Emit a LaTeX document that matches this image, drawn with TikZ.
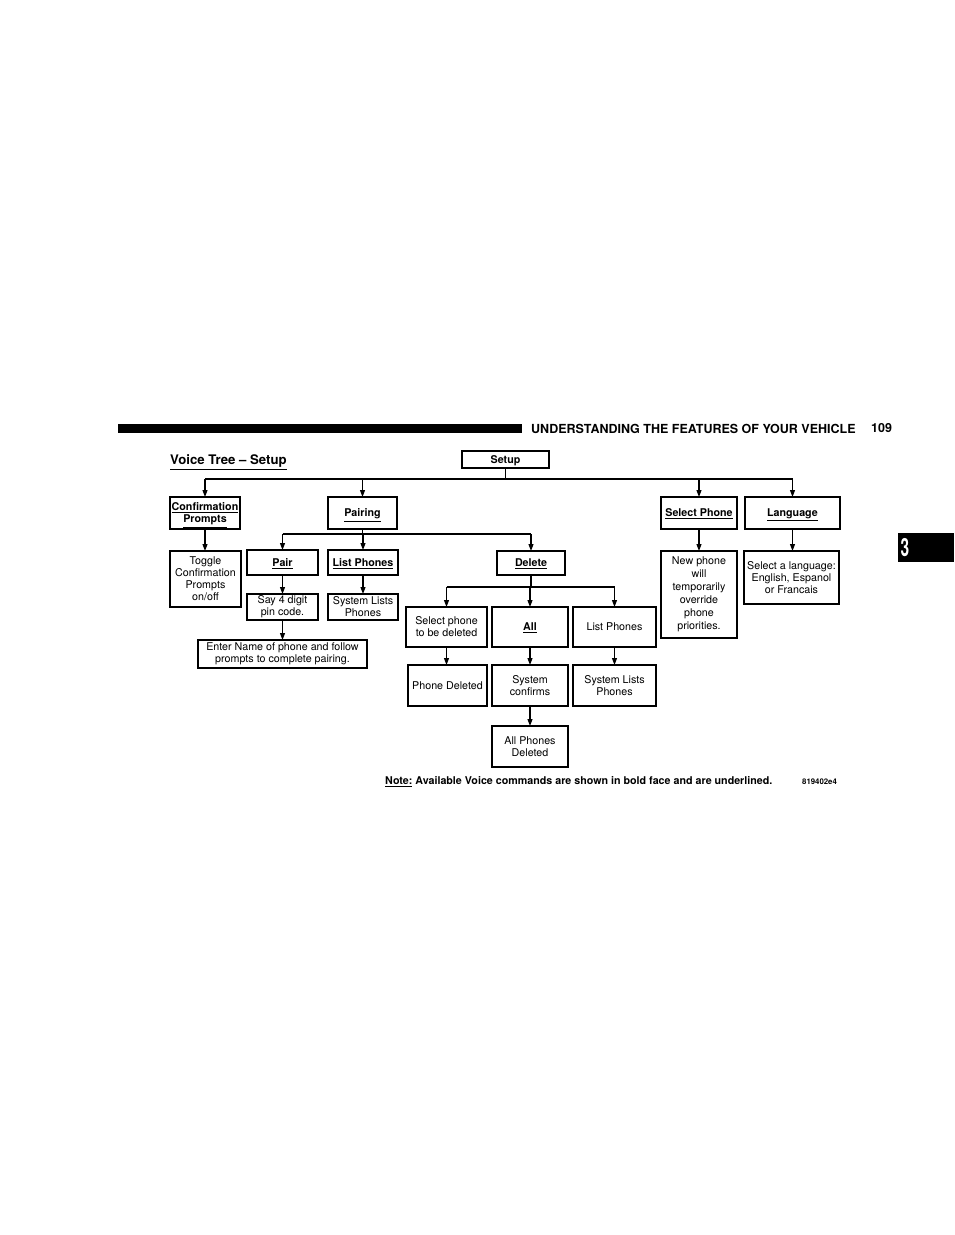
\documentclass[tikz,border=0pt]{standalone}
\usepackage{fontspec}
\setmainfont{TeX Gyre Heros}
\usetikzlibrary{arrows.meta}
\newcommand\ulz[1]{\raisebox{0pt}[\height][0pt]{\underline{#1}}}
\begin{document}
\begin{tikzpicture}[x=1pt,y=-1pt,
  box/.style={draw, line width=1.1pt, inner sep=0pt, outer sep=0pt, align=center,
    font=\fontsize{10.7}{12}\selectfont},
  cmd/.style={box, font=\fontsize{10.7}{12}\selectfont\bfseries},
  wire/.style={line width=1.1pt},
  arr/.style={line width=1.1pt, -{Triangle[width=5pt,length=7pt]}}]
\useasboundingbox (0,0) rectangle (954,1235);
% header
\fill (118,424) rectangle (522,433);
\node[anchor=west, inner sep=0pt, font=\fontsize{12.5}{14}\selectfont\bfseries] (hdr) at (531,428.5) {UNDERSTANDING THE FEATURES OF YOUR VEHICLE};
\node[anchor=west, inner sep=0pt, font=\fontsize{12.5}{14}\selectfont\bfseries] (pg) at (871,428.5) {109};
\fill (898,533) rectangle (954,562);
\node[inner sep=0pt, text=white, xscale=0.62, font=\fontsize{25}{26}\selectfont\bfseries] (tab) at (905,547.5) {3};
% title
\node[anchor=west, inner sep=0pt, font=\fontsize{13.2}{15}\selectfont\bfseries] (title) at (170,459.5) {\ulz{Voice Tree – Setup}};
% boxes
\node[cmd, minimum width=87pt, minimum height=17pt] (setup) at (505.5,459.5) {\ulz{Setup}};
\node[cmd, minimum width=70pt, minimum height=32pt] (conf) at (205,513) {\ulz{Confirmation}\\\ulz{Prompts}};
\node[cmd, minimum width=69pt, minimum height=32pt] (pairing) at (362.5,513) {\ulz{Pairing}};
\node[cmd, minimum width=76pt, minimum height=32pt] (selph) at (699,513) {\ulz{Select Phone}};
\node[cmd, minimum width=95pt, minimum height=32pt] (lang) at (792.5,513) {\ulz{Language}};
\node[box, minimum width=71pt, minimum height=56pt] (toggle) at (205.5,579) {Toggle\\Confirmation\\Prompts\\on/off};
\node[cmd, minimum width=71pt, minimum height=25pt] (pair) at (282.5,562.5) {\ulz{Pair}};
\node[cmd, minimum width=70pt, minimum height=25pt] (listph) at (363,562.5) {\ulz{List Phones}};
\node[box, minimum width=71pt, minimum height=26pt] (say) at (282.5,607) {Say 4 digit\\pin code.};
\node[box, minimum width=70pt, minimum height=26pt] (sysl1) at (363,607) {System Lists\\Phones};
\node[box, minimum width=169pt, minimum height=28pt] (enter) at (282.5,654) {Enter Name of phone and follow\\prompts to complete pairing.};
\node[cmd, minimum width=68pt, minimum height=24pt] (delete) at (531,563) {\ulz{Delete}};
\node[box, minimum width=81pt, minimum height=40pt] (seldel) at (446.5,627) {Select phone\\to be deleted};
\node[cmd, minimum width=76pt, minimum height=40pt] (all) at (530,627) {\ulz{All}};
\node[box, minimum width=83pt, minimum height=40pt] (listph2) at (614.5,627) {List Phones};
\node[box, minimum width=79pt, minimum height=41pt] (phdel) at (447.5,685.5) {Phone Deleted};
\node[box, minimum width=76pt, minimum height=41pt] (syscon) at (530,685.5) {System\\confirms};
\node[box, minimum width=83pt, minimum height=41pt] (sysl2) at (614.5,685.5) {System Lists\\Phones};
\node[box, minimum width=76pt, minimum height=41pt] (alldel) at (530,746.5) {All Phones\\Deleted};
\node[box, minimum width=76pt, minimum height=87pt, font=\fontsize{10.7}{13}\selectfont] (newph) at (699,594.5) {New phone\\will\\temporarily\\override\\phone\\priorities.};
\node[box, minimum width=95pt, minimum height=53pt] (sellang) at (791.5,577.5) {Select a language:\\English, Espanol\\or Francais};
% note
\node[anchor=west, inner sep=0pt, font=\fontsize{10.7}{12}\selectfont\bfseries] (note) at (385,781) {\ulz{Note:} Available Voice commands are shown in bold face and are underlined.};
\node[anchor=west, inner sep=0pt, font=\fontsize{7.8}{9}\selectfont\bfseries] (code) at (802,781.5) {819402e4};
% connectors
\coordinate (sj) at (505.5,479);
\draw[wire] (setup.south) -- (sj);
\draw[wire] (conf.north |- sj) -- (lang.north |- sj);
\foreach \n in {conf,pairing,selph,lang} \draw[arr] (\n.north |- sj) -- (\n.north);
\coordinate (pj) at (362.5,534);
\draw[wire] (pairing.south) -- (pj);
\draw[wire] (pair.north |- pj) -- (delete.north |- pj);
\foreach \n in {pair,listph,delete} \draw[arr] (\n.north |- pj) -- (\n.north);
\draw[arr] (conf.south) -- (toggle.north -| conf.south);
\draw[arr] (pair.south) -- (say.north);
\draw[arr] (say.south) -- (enter.north);
\draw[arr] (listph.south) -- (sysl1.north);
\coordinate (dj) at (531,587);
\draw[wire] (delete.south) -- (dj);
\draw[wire] (seldel.north |- dj) -- (listph2.north |- dj);
\foreach \n in {seldel,all,listph2} \draw[arr] (\n.north |- dj) -- (\n.north);
\draw[arr] (seldel.south) -- (seldel.south |- phdel.north);
\draw[arr] (all.south) -- (syscon.north);
\draw[arr] (listph2.south) -- (sysl2.north);
\draw[arr] (syscon.south) -- (alldel.north);
\draw[arr] (selph.south) -- (newph.north);
\draw[arr] (lang.south) -- (lang.south |- sellang.north);
\end{tikzpicture}
\end{document}
